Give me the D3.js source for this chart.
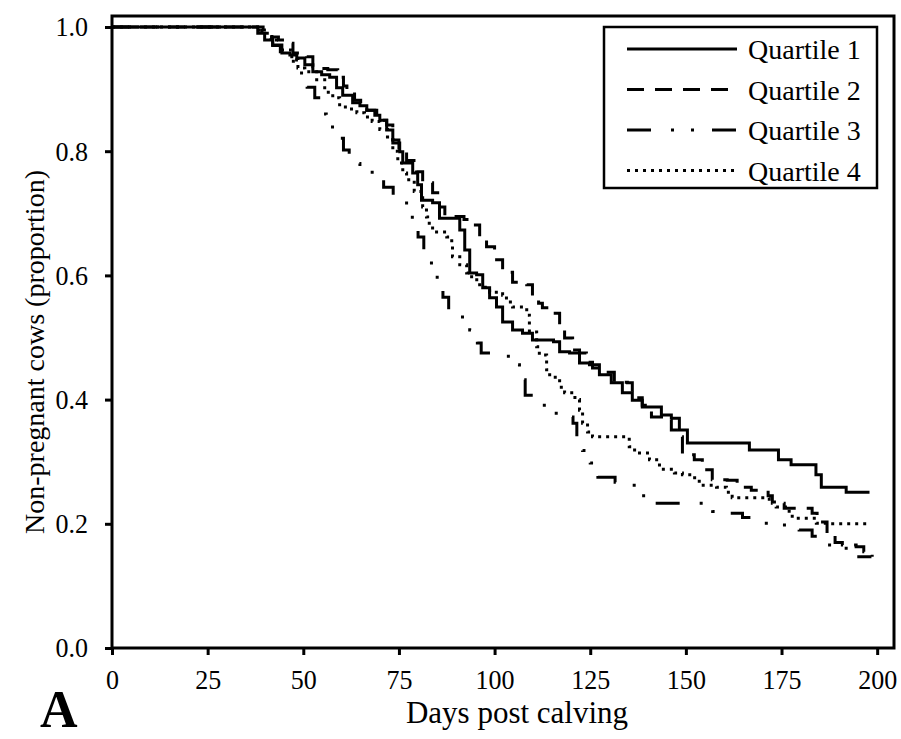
<!DOCTYPE html>
<html>
<head>
<meta charset="utf-8">
<script src="https://cdn.jsdelivr.net/npm/d3@7"></script>
<style>
  body { margin: 0; background: #fff; }
  svg { display: block; }
  text { font-family: "Liberation Serif", "Times New Roman", serif; fill: #000; }
</style>
</head>
<body>
<div id="my-chart"></div>
<script>
// Kaplan-Meier style curves, [day, proportion non-pregnant]
var quartile1 = [[0,1],[38.1,0.990],[39.9,0.979],[42.0,0.971],[44.4,0.958],[46.5,0.955],[48.3,0.950],[50.4,0.939],
  [52.5,0.928],[54.8,0.923],[56.9,0.919],[58.7,0.902],[60.3,0.890],[62.9,0.878],[64.8,0.873],[66.6,0.866],[68.7,0.858],
  [70.0,0.850],[71.8,0.834],[73.4,0.813],[75.2,0.799],[76.0,0.781],[78.6,0.765],[79.9,0.746],[80.9,0.721],[83.8,0.717],
  [85.6,0.692],[90.9,0.673],[92.2,0.641],[93.5,0.604],[95.3,0.601],[96.9,0.580],[98.7,0.564],[100.5,0.549],[102.1,0.525],
  [104.7,0.512],[107.3,0.507],[109.9,0.496],[115.4,0.493],[117.0,0.477],[119.6,0.475],[122.2,0.459],[124.8,0.456],
  [127.4,0.440],[130.5,0.427],[133.4,0.411],[136.0,0.399],[138.6,0.388],[143.6,0.375],[146.2,0.370],[148.3,0.351],
  [150.4,0.330],[166.6,0.319],[174.2,0.303],[177.5,0.295],[184.0,0.279],[185.4,0.259],[191.9,0.251],[198,0.251]];

var quartile2 = [[0,1],[39.5,0.995],[41,0.984],[43.5,0.979],[45.7,0.974],[47.3,0.958],[49.5,0.955],[50.9,0.952],
  [52.5,0.936],[54.5,0.933],[56.4,0.931],[59.0,0.919],[60.5,0.905],[61.4,0.895],[63.4,0.882],[65,0.875],[66.6,0.866],
  [69.2,0.855],[70.5,0.850],[71.8,0.842],[73.4,0.818],[75,0.805],[77,0.785],[79.6,0.767],[81.2,0.749],[83.8,0.733],
  [85.6,0.710],[87,0.695],[92,0.690],[93.5,0.685],[94.3,0.681],[96.1,0.660],[97.9,0.646],[100.0,0.625],[102.1,0.605],
  [104.7,0.589],[106.5,0.588],[108.4,0.585],[109.9,0.564],[111.5,0.555],[112.5,0.548],[115.1,0.539],[117.0,0.517],
  [118.3,0.499],[120.4,0.480],[122.2,0.475],[124,0.460],[125.6,0.451],[128.7,0.444],[131.3,0.428],[134.7,0.427],
  [136.0,0.403],[138.6,0.391],[141.0,0.372],[144.4,0.367],[146.2,0.351],[148.8,0.340],[149.1,0.311],[152.2,0.303],
  [154.3,0.287],[156.9,0.271],[160.8,0.270],[163.4,0.259],[167.1,0.254],[171.5,0.245],[172.6,0.233],[175.7,0.225],
  [183.0,0.217],[184.3,0.203],[186.9,0.182],[189,0.170],[190.9,0.166],[194.5,0.163],[196.5,0.155],[198.7,0.147]];

var quartile3 = [[0,1],[38.5,0.990],[40,0.980],[42,0.970],[44,0.960],[46,0.945],[48.3,0.926],[51,0.903],[53,0.886],
  [54.5,0.860],[56,0.839],[58.5,0.821],[60.5,0.802],[62,0.790],[63.5,0.780],[64.8,0.766],[69.2,0.762],[71,0.742],
  [73.5,0.723],[77,0.710],[78.5,0.685],[80,0.662],[81.5,0.641],[83.5,0.617],[85,0.593],[86.5,0.565],[88,0.544],
  [90.9,0.533],[93.5,0.512],[95.5,0.491],[96.5,0.475],[102.5,0.470],[104.7,0.456],[106.5,0.432],[108,0.407],
  [110,0.395],[113,0.378],[117,0.372],[120.5,0.362],[121.5,0.338],[123,0.318],[125,0.298],[127,0.275],[131.5,0.267],
  [135,0.262],[138,0.245],[140.5,0.233],[154,0.228],[157,0.220],[160.6,0.217],[164.8,0.210],[168.4,0.201],[172.3,0.198],
  [179.6,0.190],[183,0.180],[186.7,0.166],[189.3,0.163],[191.9,0.150],[194,0.147],[198.5,0.147]];

var quartile4 = [[0,1],[39.2,0.990],[41.8,0.979],[43,0.970],[44.4,0.963],[47.0,0.947],[48.6,0.934],[50.4,0.928],
  [53.5,0.915],[55.6,0.895],[57.7,0.886],[59.5,0.871],[62,0.868],[64,0.862],[66,0.855],[68,0.848],[70,0.835],[72,0.823],
  [73.4,0.800],[74.7,0.781],[76.0,0.765],[77.0,0.754],[79,0.735],[81.2,0.710],[82.2,0.694],[82.5,0.684],[83.8,0.670],
  [87.5,0.662],[88.8,0.652],[89.0,0.630],[90.9,0.617],[92.7,0.604],[94.0,0.593],[96.1,0.581],[98.7,0.573],[102.1,0.568],
  [103.1,0.557],[104.7,0.549],[108.4,0.536],[109.1,0.509],[111.0,0.485],[111.7,0.472],[113.6,0.448],[114.4,0.436],
  [117.0,0.420],[118.3,0.411],[121,0.400],[122.2,0.383],[123.0,0.362],[124.3,0.348],[125.6,0.340],[135.2,0.324],
  [136.6,0.314],[140.5,0.303],[143.1,0.288],[147,0.282],[149.1,0.279],[151.7,0.274],[153.5,0.262],[158.0,0.259],
  [160.6,0.251],[162.1,0.242],[171.8,0.235],[173.6,0.227],[177.0,0.217],[177.8,0.209],[184.1,0.201],[186.7,0.200],[198,0.200]];

var seriesNames = ["Quartile 1", "Quartile 2", "Quartile 3", "Quartile 4"];
var xTicks = [0, 25, 50, 75, 100, 125, 150, 175, 200];
var yTicks = [0, 0.2, 0.4, 0.6, 0.8, 1.0];

var width = 901, height = 739;
var plotLeft = 112, plotRight = 894, plotTop = 16, plotBottom = 648;
var squeeze = 0.93; // tick labels look tall and narrow in the original

// line styles per quartile
var dashes = ["none", "17,11", "24,20,3,17,3,18", "3,5"];

var svg = d3.select("div#my-chart").append("svg")
  .attr("width", width)
  .attr("height", height);

var x = d3.scaleLinear().domain([0, 204.4]).range([plotLeft, plotRight]);
var y = d3.scaleLinear().domain([0, 1.0177]).range([plotBottom, plotTop]);

var xAxis = d3.axisBottom(x).tickValues(xTicks).tickSize(7).tickPadding(14).tickFormat(d3.format("d"));
var yAxis = d3.axisLeft(y).tickValues(yTicks).tickSize(7).tickPadding(17).tickFormat(d3.format(".1f"));

var gx = svg.append("g")
  .attr("transform", "translate(0," + plotBottom + ")")
  .call(xAxis);
var gy = svg.append("g")
  .attr("transform", "translate(" + plotLeft + ",0)")
  .call(yAxis);

[gx, gy].forEach(function(g) {
  g.select(".domain").remove();
  g.selectAll(".tick line").attr("stroke", "#000").attr("stroke-width", 3);
  g.selectAll(".tick text")
    .style("font-family", "'Liberation Serif', 'Times New Roman', serif")
    .style("font-size", "28px")
    .attr("fill", "#000");
});
gx.selectAll(".tick text").attr("transform", "scale(" + squeeze + ",1)");
gy.selectAll(".tick text")
  .attr("x", -24 / squeeze)
  .attr("transform", "scale(" + squeeze + ",1)");

var line = d3.line()
  .x(function(d) { return x(d[0]); })
  .y(function(d) { return y(d[1]); })
  .curve(d3.curveStepAfter);

var allSeries = [quartile1, quartile2, quartile3, quartile4];

svg.append("g").selectAll("path")
  .data(allSeries)
  .enter()
  .append("path")
  .attr("d", line)
  .attr("fill", "none")
  .attr("stroke", "#000")
  .attr("stroke-width", 3)
  .attr("stroke-dasharray", function(d, i) { return dashes[i]; });

// frame
svg.append("rect")
  .attr("x", plotLeft)
  .attr("y", plotTop)
  .attr("width", plotRight - plotLeft)
  .attr("height", plotBottom - plotTop)
  .attr("fill", "none")
  .attr("stroke", "#000")
  .attr("stroke-width", 3);

// legend
var legend = svg.append("g");
legend.append("rect")
  .attr("x", 604)
  .attr("y", 27)
  .attr("width", 273)
  .attr("height", 161)
  .attr("fill", "#fff")
  .attr("stroke", "#000")
  .attr("stroke-width", 2.5);

var rows = legend.selectAll("g.row")
  .data(seriesNames)
  .enter()
  .append("g")
  .attr("class", "row")
  .attr("transform", function(d, i) { return "translate(0," + (49 + i * 40.5) + ")"; });

rows.append("line")
  .attr("x1", 627)
  .attr("x2", 737)
  .attr("stroke", "#000")
  .attr("stroke-width", 3)
  .attr("stroke-dasharray", function(d, i) { return dashes[i]; });

rows.append("text")
  .attr("x", 748)
  .attr("y", 10)
  .style("font-size", "28px")
  .text(function(d) { return d; });

// axis titles
svg.append("text")
  .attr("x", 517)
  .attr("y", 723)
  .attr("text-anchor", "middle")
  .style("font-size", "31px")
  .text("Days post calving");

svg.append("text")
  .attr("transform", "translate(44,352) rotate(-90)")
  .attr("text-anchor", "middle")
  .style("font-size", "28px")
  .text("Non-pregnant cows (proportion)");

svg.append("text")
  .attr("x", 40)
  .attr("y", 727)
  .style("font-size", "52px")
  .style("font-weight", "bold")
  .text("A");
</script>
</body>
</html>
